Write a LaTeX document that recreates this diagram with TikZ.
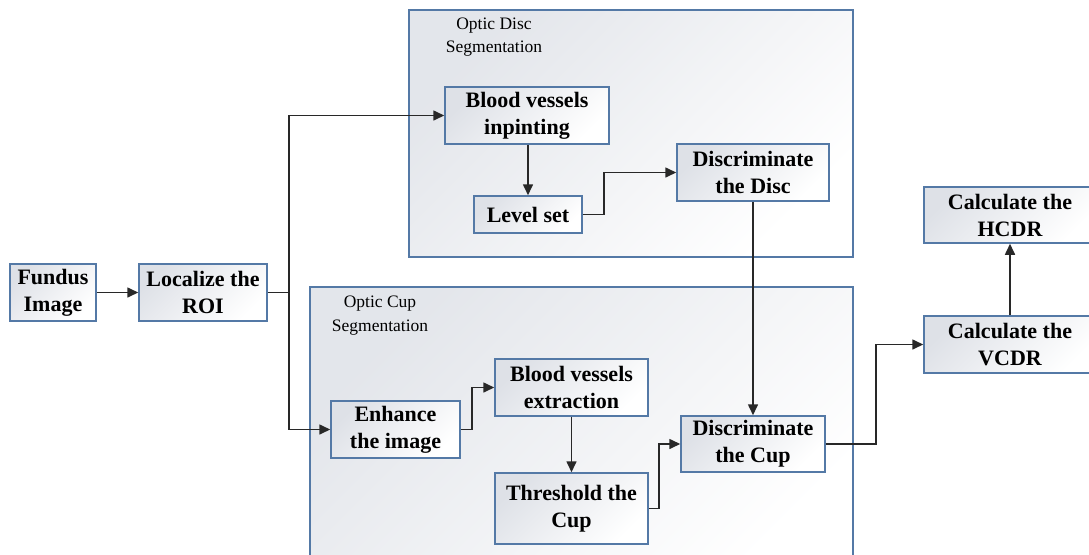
\documentclass[tikz,border=0pt]{standalone}
\usepackage{fontspec}
\setmainfont{Liberation Serif}
\usetikzlibrary{arrows.meta}

\definecolor{boxedge}{RGB}{84,121,166}
\definecolor{shadegray}{RGB}{222,225,231}
\definecolor{wire}{RGB}{40,40,40}

\tikzset{
  stepbox/.style={draw=boxedge, line width=1.5pt, top color=shadegray, bottom color=white,
    shading angle=45, align=center, inner sep=0pt,
    font=\bfseries\fontsize{22}{27}\selectfont},
  groupframe/.style={draw=boxedge, line width=1.3pt, top color=shadegray!85, bottom color=white,
    shading angle=45},
  grouptitle/.style={align=center, inner sep=0pt, font=\fontsize{17.5}{23.5}\selectfont},
  flow/.style={draw=wire, line width=1.6pt, -{Triangle[length=11pt,width=10pt]}},
  plainline/.style={draw=wire, line width=1.6pt}
}

\begin{document}
\begin{tikzpicture}[x=1pt, y=-1pt]
  \useasboundingbox (0,0) rectangle (1089,554);
  \clip (0,0) rectangle (1089,554);
  \fill[white] (0,0) rectangle (1089,554);

  % segmentation group frames
  \path[groupframe] (409,10) rectangle (853,257);
  \path[groupframe] (310,287) rectangle (853,580);
  \node[grouptitle] (disctitle) at (494,37) {Optic Disc\\Segmentation};
  \node[grouptitle] (cuptitle) at (380,315.5) {Optic Cup\\Segmentation};

  % processing steps
  \node[stepbox, minimum width=86pt,  minimum height=57pt] (fundus) at (53,292.5)    {Fundus\\Image};
  \node[stepbox, minimum width=128pt, minimum height=57pt] (roi)    at (203,292.5)   {Localize the\\ROI};
  \node[stepbox, minimum width=164pt, minimum height=57pt] (bvi)    at (527,115.5)   {Blood vessels\\inpinting};
  \node[stepbox, minimum width=108pt, minimum height=37pt] (lvl)    at (528,214.5)   {Level set};
  \node[stepbox, minimum width=152pt, minimum height=57pt] (ddisc)  at (753,172.5)   {Discriminate\\the Disc};
  \node[stepbox, minimum width=129pt, minimum height=57pt] (enh)    at (395.5,429.5) {Enhance\\the image};
  \node[stepbox, minimum width=153pt, minimum height=57pt] (bve)    at (571.5,387.5) {Blood vessels\\extraction};
  \node[stepbox, minimum width=153pt, minimum height=71pt] (thr)    at (571.5,508.5) {Threshold the\\Cup};
  \node[stepbox, minimum width=144pt, minimum height=56pt] (dcup)   at (753,444)     {Discriminate\\the Cup};
  \node[stepbox, minimum width=172pt, minimum height=57pt] (vcdr)   at (1010,344.5)  {Calculate the\\VCDR};
  \node[stepbox, minimum width=172pt, minimum height=56pt] (hcdr)   at (1010,215)    {Calculate the\\HCDR};

  % connectors
  \coordinate (split) at (289,292.5);
  \draw[flow] (fundus.east) -- (roi.west);
  \draw[plainline] (roi.east) -- (split);
  \draw[flow] (split) |- (bvi.west);
  \draw[flow] (split) |- (enh.west);
  \draw[flow] (bvi.south -| lvl.north) -- (lvl.north);
  \draw[flow] (lvl.east) -- ++(21,0) |- (ddisc.west);
  \draw[flow] (ddisc.south) -- (dcup.north);
  \draw[flow] (enh.east) -- ++(11,0) |- (bve.west);
  \draw[flow] (bve.south) -- (thr.north);
  \draw[flow] (thr.east) -- ++(10,0) |- (dcup.west);
  \draw[flow] (dcup.east) -- ++(50,0) |- (vcdr.west);
  \draw[flow] (vcdr.north) -- (hcdr.south);
\end{tikzpicture}
\end{document}
